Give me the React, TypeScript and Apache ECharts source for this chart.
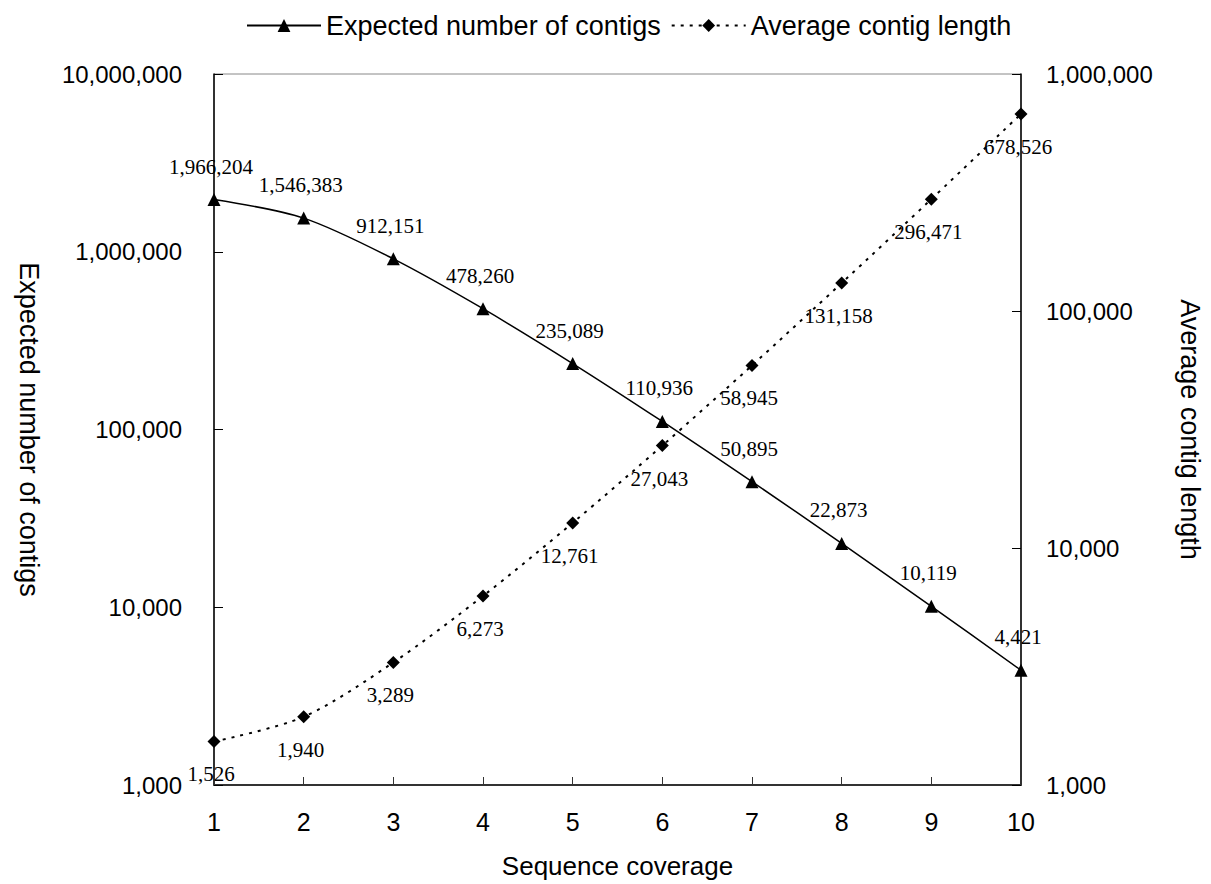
import React, { useEffect, useRef } from "react";
import * as echarts from "echarts";

const coverage = [1, 2, 3, 4, 5, 6, 7, 8, 9, 10];
const expectedContigs = [1966204, 1546383, 912151, 478260, 235089, 110936, 50895, 22873, 10119, 4421];
const avgContigLength = [1526, 1940, 3289, 6273, 12761, 27043, 58945, 131158, 296471, 678526];
const seriesNames = ["Expected number of contigs", "Average contig length"];
const axisNames = { x: "Sequence coverage", left: "Expected number of contigs", right: "Average contig length" };

const fmt = (v: number) => Math.round(v).toLocaleString("en-US");
const SANS = "'Liberation Sans', Arial, sans-serif";
const SERIF = "'Liberation Serif', 'Times New Roman', serif";

export default function App() {
  const ref = useRef<HTMLDivElement>(null);
  useEffect(() => {
    if (!ref.current) return;
    const chart = echarts.init(ref.current, undefined, { renderer: "svg" });
    const labelStyle = {
      show: true,
      position: "inside",
      color: "#000",
      fontFamily: SERIF,
      fontSize: 21,
      formatter: (p: any) => fmt(p.value[1]),
    };
    chart.setOption({
      animation: false,
      backgroundColor: "#fff",
      legend: {
        top: 7,
        left: 241,
        itemWidth: 74,
        itemHeight: 16,
        itemGap: 10,
        textStyle: { color: "#000", fontFamily: SANS, fontSize: 27 },
        data: seriesNames,
      },
      grid: {
        left: 214,
        right: 179,
        top: 74,
        bottom: 96,
        show: true,
        borderColor: "#888",
        borderWidth: 1,
      },
      xAxis: {
        type: "value",
        min: 1,
        max: 10,
        interval: 1,
        name: axisNames.x,
        nameLocation: "middle",
        nameGap: 68,
        nameTextStyle: { color: "#000", fontFamily: SANS, fontSize: 26 },
        axisLine: { lineStyle: { color: "#333", width: 2 } },
        axisTick: { inside: true, length: 8, lineStyle: { color: "#333" } },
        axisLabel: { color: "#000", fontFamily: SANS, fontSize: 25, margin: 24 },
        splitLine: { show: false },
      },
      yAxis: [
        {
          type: "log",
          logBase: 10,
          min: 1000,
          max: 10000000,
          position: "left",
          name: axisNames.left,
          nameLocation: "middle",
          nameRotate: -90,
          nameGap: 172,
          nameTextStyle: { color: "#000", fontFamily: SANS, fontSize: 27 },
          axisLine: { show: true, lineStyle: { color: "#000", width: 1.5 } },
          axisTick: { show: true, inside: true, length: 9, lineStyle: { color: "#000" } },
          axisLabel: { color: "#000", fontFamily: SANS, fontSize: 24, margin: 32, formatter: fmt },
          splitLine: { show: false },
          minorTick: { show: false },
        },
        {
          type: "log",
          logBase: 10,
          min: 1000,
          max: 1000000,
          position: "right",
          name: axisNames.right,
          nameLocation: "middle",
          nameRotate: -90,
          nameGap: 155,
          nameTextStyle: { color: "#000", fontFamily: SANS, fontSize: 27 },
          axisLine: { show: true, lineStyle: { color: "#000", width: 1.5 } },
          axisTick: { show: true, inside: true, length: 9, lineStyle: { color: "#000" } },
          axisLabel: { color: "#000", fontFamily: SANS, fontSize: 24, margin: 25, formatter: fmt },
          splitLine: { show: false },
          minorTick: { show: false },
        },
      ],
      series: [
        {
          name: seriesNames[0],
          type: "line",
          yAxisIndex: 0,
          smooth: 0.3,
          symbol: "triangle",
          symbolSize: 13,
          itemStyle: { color: "#000" },
          lineStyle: { color: "#000", width: 1.5, type: "solid" },
          label: { ...labelStyle, offset: [-3, -33] },
          data: coverage.map((c, i) => [c, expectedContigs[i]]),
          z: 3,
        },
        {
          name: seriesNames[1],
          type: "line",
          yAxisIndex: 1,
          smooth: 0.3,
          symbol: "diamond",
          symbolSize: 13,
          itemStyle: { color: "#000" },
          lineStyle: { color: "#000", width: 2, type: [3, 6] },
          label: { ...labelStyle, offset: [-3, 33] },
          data: coverage.map((c, i) => [c, avgContigLength[i]]),
          z: 3,
        },
      ],
    });
    return () => chart.dispose();
  }, []);
  return (
    <div
      ref={ref}
      style={{ position: "fixed", left: 0, top: 0, width: 1211, height: 884, background: "#fff" }}
    />
  );
}
